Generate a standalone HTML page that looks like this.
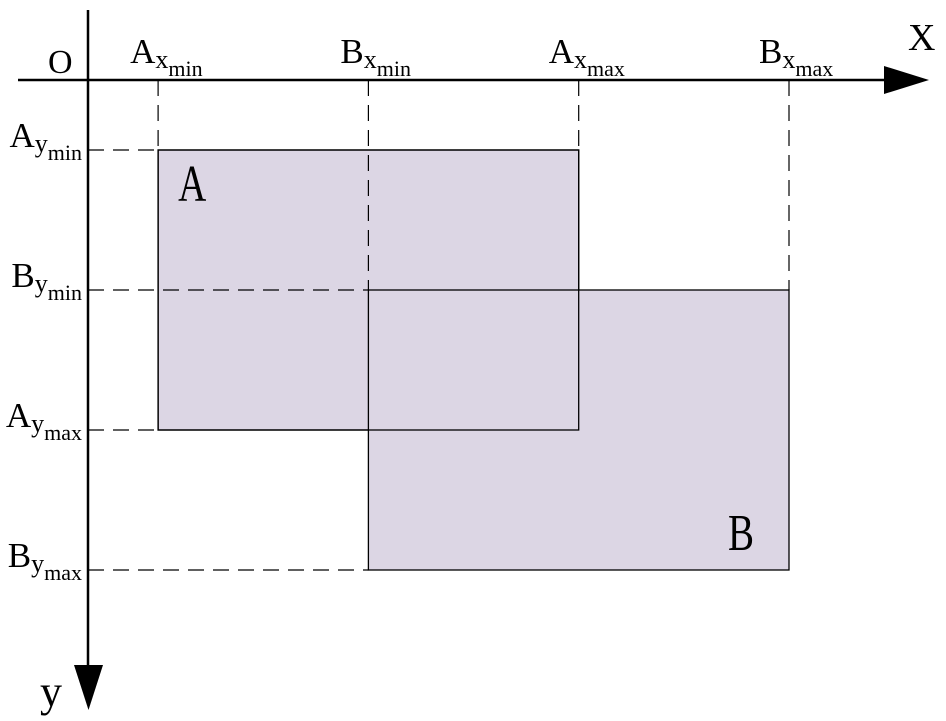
<!DOCTYPE html>
<html><head><meta charset="utf-8"><style>
html,body{margin:0;padding:0;background:#fff;}
svg{display:block;font-family:"Liberation Serif",serif;}
</style></head><body>
<svg id="chart" width="946" height="721" viewBox="0 0 946 721">
<g id="rects"></g>
<g id="guides"></g>
<g id="axes">
<line x1="18" y1="80" x2="890" y2="80" stroke="#000" stroke-width="2.5"/>
<polygon points="884,66 929,80 884,94" fill="#000"/>
<line x1="88" y1="10" x2="88" y2="670" stroke="#000" stroke-width="2.5"/>
<polygon points="74,665 103,665 88.5,710" fill="#000"/>
<text x="48" y="73" font-size="34">O</text>
<text x="908" y="50" font-size="38">X</text>
<text x="40" y="706" font-size="44">y</text>
</g>
<g id="labels"></g>
</svg>
<script>
const rectNames = ["A", "B"];
const xMin = [1, 4];
const xMax = [7, 10];
const yMin = [1, 3];
const yMax = [5, 7];
const NS = "http://www.w3.org/2000/svg";
const sx = v => 88 + v * 70.1;
const sy = v => 80 + v * 70;
function mk(tag, attrs, parent){const e=document.createElementNS(NS,tag);for(const k in attrs)e.setAttribute(k,attrs[k]);parent.appendChild(e);return e;}
const gR=document.getElementById('rects'),gG=document.getElementById('guides'),gL=document.getElementById('labels');
function sub(parent,x,y,main,s1,s2,anchorEnd,name){
  const t=mk('text',{x:x,y:y,'font-size':35,'text-anchor':anchorEnd?'end':'start'},parent);
  
  
  t.textContent=main;
  const a=mk('tspan',{'font-size':26,dy:5},t);a.textContent=s1;
  const b=mk('tspan',{'font-size':22,dy:8},t);b.textContent=s2;
}
for(let i=0;i<rectNames.length;i++){
  const x0=sx(xMin[i]),x1=sx(xMax[i]),y0=sy(yMin[i]),y1=sy(yMax[i]);
  const r=mk('rect',{x:x0,y:y0,width:x1-x0,height:y1-y0,fill:'#dcd6e4',stroke:'#000','stroke-width':1.3},gR);
  
  
}
{const x0=sx(xMin[0]),x1=sx(xMax[0]),y0=sy(yMin[0]),y1=sy(yMax[0]);
 const o=mk('rect',{x:x0,y:y0,width:x1-x0,height:y1-y0,fill:'none',stroke:'#000','stroke-width':1.3},gR);
 
 }
for(let i=0;i<rectNames.length;i++){
  const n=rectNames[i];
  const x0=sx(xMin[i]),x1=sx(xMax[i]),y0=sy(yMin[i]),y1=sy(yMax[i]);
  [[x0,y0],[x1,y0]].forEach((p,j)=>{
    const l=mk('line',{x1:p[0],y1:80,x2:p[0],y2:p[1],stroke:'#000','stroke-width':1.2,'stroke-dasharray':'16,9'},gG);
    
    
  });
  [y0,y1].forEach((yy,j)=>{
    const l=mk('line',{x1:88,y1:yy,x2:x0,y2:yy,stroke:'#000','stroke-width':1.2,'stroke-dasharray':'16,9'},gG);
    
    
  });
  sub(gL,x0-28,63,n,'x','min',false,'label-'+n+'-xmin');
  sub(gL,x1-30,63,n,'x','max',false,'label-'+n+'-xmax');
  sub(gL,82,y0-3,n,'y','min',true,'label-'+n+'-ymin');
  sub(gL,82,y1-3,n,'y','max',true,'label-'+n+'-ymax');
  const big=mk('text',{'font-size':52,transform:'scale(0.75,1)'},gL);
  const bx=i===0?x0+20:x1-61, by=i===0?y0+51:y1-20;
  big.setAttribute('x',bx/0.75);big.setAttribute('y',by);
  
  
  big.textContent=n;
}
</script>
</body></html>
